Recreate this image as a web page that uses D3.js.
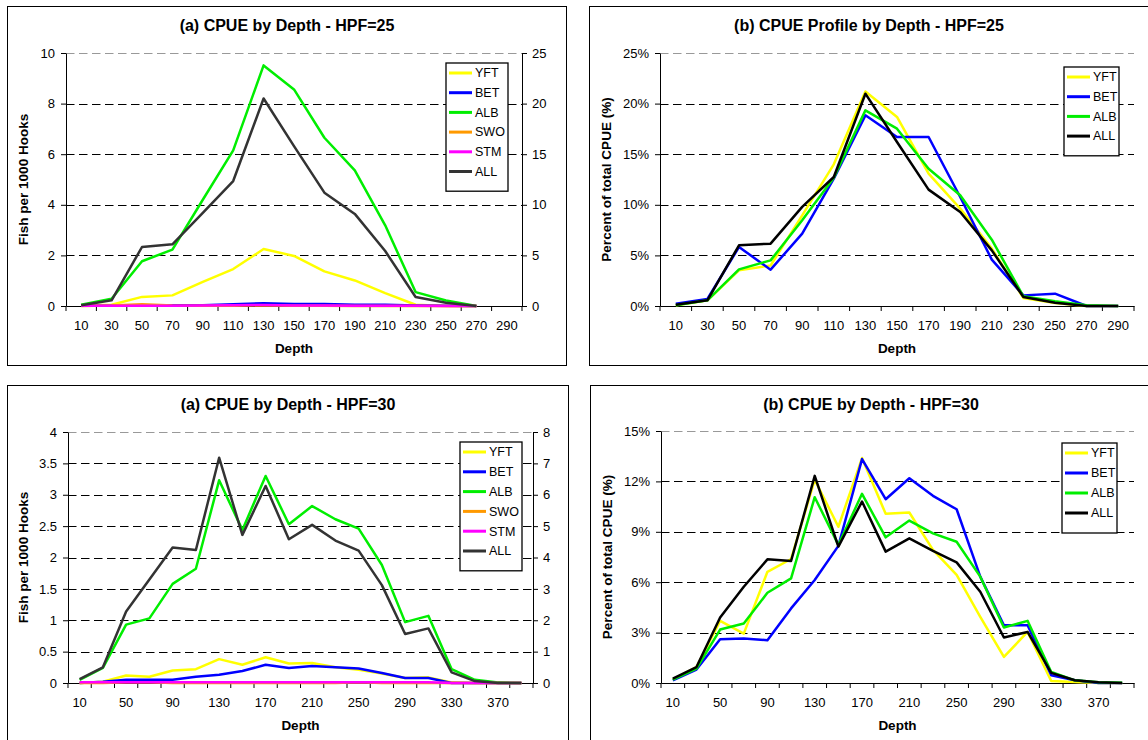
<!DOCTYPE html>
<html>
<head>
<meta charset="utf-8">
<script src="https://cdn.jsdelivr.net/npm/d3@7"></script>
<style>
  body { margin: 0; background: #fff; }
  svg { display: block; font-family: "Liberation Sans", Arial, sans-serif; }
</style>
</head>
<body>
<div id="chart"></div>
<script>
// Depth categories
var depths25 = [10, 30, 50, 70, 90, 110, 130, 150, 170, 190, 210, 230, 250, 270, 290];
var depths30 = [10, 30, 50, 70, 90, 110, 130, 150, 170, 190, 210, 230, 250, 270, 290, 310, 330, 350, 370, 390];

// Tick labels
var xLabels25 = depths25;
var xLabels30 = [10, 50, 90, 130, 170, 210, 250, 290, 330, 370];
var cpueTicks25 = [0, 2, 4, 6, 8, 10];
var allTicks25 = [0, 5, 10, 15, 20, 25];
var pctTicks25 = [0, 5, 10, 15, 20, 25];
var cpueTicks30 = [0, 0.5, 1, 1.5, 2, 2.5, 3, 3.5, 4];
var allTicks30 = [0, 1, 2, 3, 4, 5, 6, 7, 8];
var pctTicks30 = [0, 3, 6, 9, 12, 15];

// (a) HPF=25 - fish per 1000 hooks (ALL is read on the secondary axis)
var yft25 = [0.02, 0.05, 0.36, 0.42, 0.95, 1.46, 2.25, 1.98, 1.37, 1.01, 0.51, 0.05, 0, 0, null];
var bet25 = [0.01, 0.01, 0.02, 0.03, 0.03, 0.07, 0.11, 0.08, 0.08, 0.05, 0.05, 0.02, 0.01, 0, null];
var alb25 = [0.05, 0.29, 1.77, 2.23, 4.2, 6.15, 9.51, 8.56, 6.65, 5.36, 3.19, 0.55, 0.22, 0, null];
var swo25 = [0, 0.02, 0.07, 0.02, 0.01, 0.01, 0.03, 0.01, 0.01, 0, 0, 0, 0, 0, null];
var stm25 = [0.01, 0.01, 0.01, 0.01, 0.02, 0.03, 0.04, 0.02, 0.02, 0.01, 0.01, 0.01, 0, 0, null];
var all25 = [0.07, 0.56, 5.83, 6.1, 9.2, 12.35, 20.5, 15.8, 11.2, 9.1, 5.43, 0.89, 0.33, 0, null];

// (b) HPF=25 - percent of total CPUE
var pYft25 = [0.07, 0.56, 3.52, 4.0, 8.96, 14.0, 21.2, 18.68, 13.08, 9.62, 5.67, 0.79, 0.3, 0, 0];
var pBet25 = [0.23, 0.69, 5.83, 3.59, 7.15, 12.58, 18.84, 16.7, 16.7, 10.77, 4.58, 1.05, 1.22, 0, 0];
var pAlb25 = [0.07, 0.56, 3.62, 4.51, 8.47, 12.68, 19.33, 17.52, 13.57, 10.94, 6.55, 0.96, 0.46, 0.07, 0];
var pAll25 = [0.13, 0.56, 6.0, 6.16, 9.8, 12.75, 20.98, 16.2, 11.5, 9.29, 5.5, 0.89, 0.33, 0, 0];

// (a) HPF=30 - fish per 1000 hooks (ALL on secondary axis)
var yft30 = [0, 0.02, 0.12, 0.1, 0.2, 0.22, 0.38, 0.29, 0.41, 0.31, 0.32, 0.25, 0.21, 0.15, 0.08, 0.09, 0.01, 0, 0, 0];
var bet30 = [0, 0.02, 0.05, 0.05, 0.05, 0.1, 0.13, 0.19, 0.29, 0.24, 0.27, 0.25, 0.23, 0.16, 0.08, 0.08, 0, 0, 0, 0];
var alb30 = [0.05, 0.24, 0.93, 1.03, 1.58, 1.82, 3.23, 2.44, 3.3, 2.53, 2.82, 2.61, 2.46, 1.88, 0.97, 1.07, 0.22, 0.05, 0.01, 0];
var swo30 = [0, 0, 0.01, 0.01, 0, 0, 0, 0, 0, 0, 0, 0, 0.01, 0, 0, 0, 0, 0, 0, 0];
var stm30 = [0.01, 0.01, 0.01, 0.01, 0.01, 0.01, 0.01, 0.01, 0.01, 0.01, 0.01, 0.01, 0.01, 0.01, 0.01, 0.01, 0, 0, 0, 0];
var all30 = [0.12, 0.5, 2.28, 3.3, 4.32, 4.24, 7.18, 4.72, 6.28, 4.58, 5.04, 4.54, 4.22, 3.12, 1.56, 1.74, 0.34, 0.06, 0, 0];

// (b) HPF=30 - percent of total CPUE
var pYft30 = [0.2, 0.95, 3.7, 2.94, 6.62, 7.38, 12.1, 9.3, 13.39, 10.07, 10.15, 7.92, 6.43, 3.94, 1.55, 3.04, 0.12, 0.06, 0, 0];
var pBet30 = [0.16, 0.8, 2.6, 2.65, 2.55, 4.44, 6.13, 8.16, 13.33, 10.94, 12.19, 11.14, 10.34, 6.33, 3.44, 3.44, 0.46, 0.16, 0, 0];
var pAlb30 = [0.2, 0.86, 3.18, 3.54, 5.37, 6.23, 11.06, 8.22, 11.26, 8.67, 9.67, 8.91, 8.41, 6.33, 3.3, 3.7, 0.66, 0.16, 0.04, 0.02];
var pAll30 = [0.26, 0.95, 3.9, 5.73, 7.36, 7.26, 12.33, 8.12, 10.8, 7.82, 8.61, 7.86, 7.18, 5.43, 2.71, 3.04, 0.6, 0.16, 0.04, 0];

// Colours
var cYFT = "#ffff00", cBET = "#0000ff", cALB = "#00ee00", cSWO = "#ff9900", cSTM = "#ff00ff";

var svg = d3.select("#chart")
    .append("svg")
    .attr("width", 1148)
    .attr("height", 740);

var pct = d => d + "%";

// One box = frame, plot area, axes, lines and legend
function drawPanel(p) {

    var g = svg.append("g");

    g.append("rect")
        .attr("x", p.frame[0]).attr("y", p.frame[1])
        .attr("width", p.frame[2]).attr("height", p.frame[3])
        .attr("fill", "none")
        .attr("stroke", "#000")
        .attr("stroke-width", 1);

    var x = d3.scaleBand().domain(p.depths).range([p.left, p.right]);
    var y = d3.scaleLinear().domain([0, d3.max(p.yTicks)]).range([p.bottom, p.top]);
    var y2 = p.y2Ticks ? d3.scaleLinear().domain([0, d3.max(p.y2Ticks)]).range([p.bottom, p.top]) : null;

    // dashed gridlines
    g.selectAll(".grid")
        .data(p.yTicks.filter(d => d > 0))
        .enter().append("line")
        .attr("x1", p.left).attr("x2", p.right)
        .attr("y1", d => Math.round(y(d)) + 0.5)
        .attr("y2", d => Math.round(y(d)) + 0.5)
        .attr("stroke", d => d === d3.max(p.yTicks) ? "#999" : "#000")
        .attr("stroke-dasharray", "8.5,4.5");

    // left axis
    g.append("g")
        .attr("transform", `translate(${p.left},0)`)
        .call(d3.axisLeft(y).tickValues(p.yTicks).tickSize(5).tickSizeOuter(0)
            .tickPadding(6).tickFormat(p.yFormat));

    // right axis for ALL
    if (y2) {
        g.append("g")
            .attr("transform", `translate(${p.right},0)`)
            .call(d3.axisRight(y2).tickValues(p.y2Ticks).tickSize(5).tickSizeOuter(0)
                .tickPadding(5).tickFormat(d3.format("")));
    }

    // bottom axis, labels at band centres
    g.append("g")
        .attr("transform", `translate(0,${p.bottom})`)
        .call(d3.axisBottom(x).tickValues(p.xLabels).tickSize(0).tickSizeOuter(0).tickPadding(15));

    // tick marks at band edges
    g.selectAll(".xtick")
        .data(p.depths.map(d => x(d)).concat([p.right]))
        .enter().append("line")
        .attr("x1", d => d).attr("x2", d => d)
        .attr("y1", p.bottom).attr("y2", p.bottom + 5)
        .attr("stroke", "#000");

    g.selectAll(".tick text")
        .attr("font-size", 13)
        .attr("fill", "#000");
    g.selectAll("g").attr("font-family", null).attr("font-size", null);
    g.selectAll(".domain, .tick line").attr("stroke", "#000");

    // series lines
    p.series.forEach(function(s) {
        var scale = s.secondary ? y2 : y;
        var line = d3.line()
            .defined(d => d != null)
            .x((d, i) => x(p.depths[i]) + x.bandwidth() / 2)
            .y(d => scale(d));
        g.append("path")
            .datum(s.values)
            .attr("d", line)
            .attr("fill", "none")
            .attr("stroke", s.color)
            .attr("stroke-width", 2.5)
            .attr("stroke-linejoin", "round");
    });

    // titles
    g.append("text")
        .attr("x", p.titleX).attr("y", p.titleY)
        .attr("text-anchor", "middle")
        .attr("font-size", 16).attr("font-weight", "bold")
        .text(p.title);

    g.append("text")
        .attr("x", (p.left + p.right) / 2).attr("y", p.bottom + 47)
        .attr("text-anchor", "middle")
        .attr("font-size", 13.5).attr("font-weight", "bold")
        .text("Depth");

    g.append("text")
        .attr("transform", `translate(${p.yLabelX},${(p.top + p.bottom) / 2}) rotate(-90)`)
        .attr("text-anchor", "middle")
        .attr("font-size", 13.5).attr("font-weight", "bold")
        .text(p.yLabel);

    // legend
    var lg = p.legend;
    g.append("rect")
        .attr("x", lg.x).attr("y", lg.y)
        .attr("width", lg.w).attr("height", lg.rowH * p.series.length + 10)
        .attr("fill", "#fff")
        .attr("stroke", "#000")
        .attr("stroke-width", 1.3);

    var rows = g.selectAll(".legend")
        .data(p.series)
        .enter().append("g")
        .attr("transform", (d, i) => `translate(${lg.x},${lg.y + 10 + i * lg.rowH})`);

    rows.append("line")
        .attr("x1", 3).attr("x2", 26)
        .attr("stroke", d => d.color)
        .attr("stroke-width", 3);

    rows.append("text")
        .attr("x", 29).attr("dy", "0.35em")
        .attr("font-size", 12.5)
        .text(d => d.name);
}

drawPanel({
    frame: [7.5, 6.5, 559, 359],
    left: 66, right: 522, top: 53, bottom: 306,
    depths: depths25, xLabels: xLabels25,
    yTicks: cpueTicks25, y2Ticks: allTicks25, yFormat: d3.format(""),
    title: "(a) CPUE by Depth - HPF=25", titleX: 287, titleY: 31,
    yLabel: "Fish per 1000 Hooks", yLabelX: 27.5,
    legend: {x: 446, y: 63, w: 62, rowH: 19.7},
    series: [
        {name: "YFT", values: yft25, color: cYFT},
        {name: "BET", values: bet25, color: cBET},
        {name: "ALB", values: alb25, color: cALB},
        {name: "SWO", values: swo25, color: cSWO},
        {name: "STM", values: stm25, color: cSTM},
        {name: "ALL", values: all25, color: "#333333", secondary: true}
    ]
});

drawPanel({
    frame: [589.5, 6.5, 600, 359],
    left: 660, right: 1134, top: 53, bottom: 306,
    depths: depths25, xLabels: xLabels25,
    yTicks: pctTicks25, yFormat: pct,
    title: "(b) CPUE Profile by Depth - HPF=25", titleX: 869, titleY: 31,
    yLabel: "Percent of total CPUE (%)", yLabelX: 610.5,
    legend: {x: 1064, y: 67, w: 55, rowH: 19.7},
    series: [
        {name: "YFT", values: pYft25, color: cYFT},
        {name: "BET", values: pBet25, color: cBET},
        {name: "ALB", values: pAlb25, color: cALB},
        {name: "ALL", values: pAll25, color: "#000"}
    ]
});

drawPanel({
    frame: [7.5, 385.5, 561, 400],
    left: 68, right: 533, top: 432, bottom: 683,
    depths: depths30, xLabels: xLabels30,
    yTicks: cpueTicks30, y2Ticks: allTicks30, yFormat: d3.format(""),
    title: "(a) CPUE by Depth - HPF=30", titleX: 288, titleY: 410,
    yLabel: "Fish per 1000 Hooks", yLabelX: 27.5,
    legend: {x: 460, y: 442, w: 62, rowH: 19.8},
    series: [
        {name: "YFT", values: yft30, color: cYFT},
        {name: "BET", values: bet30, color: cBET},
        {name: "ALB", values: alb30, color: cALB},
        {name: "SWO", values: swo30, color: cSWO},
        {name: "STM", values: stm30, color: cSTM},
        {name: "ALL", values: all30, color: "#333333", secondary: true}
    ]
});

drawPanel({
    frame: [590.5, 385.5, 600, 400],
    left: 661, right: 1134, top: 431, bottom: 683,
    depths: depths30, xLabels: xLabels30,
    yTicks: pctTicks30, yFormat: pct,
    title: "(b) CPUE by Depth - HPF=30", titleX: 871, titleY: 410,
    yLabel: "Percent of total CPUE (%)", yLabelX: 611.5,
    legend: {x: 1062, y: 443, w: 55, rowH: 20},
    series: [
        {name: "YFT", values: pYft30, color: cYFT},
        {name: "BET", values: pBet30, color: cBET},
        {name: "ALB", values: pAlb30, color: cALB},
        {name: "ALL", values: pAll30, color: "#000"}
    ]
});
</script>
</body>
</html>
